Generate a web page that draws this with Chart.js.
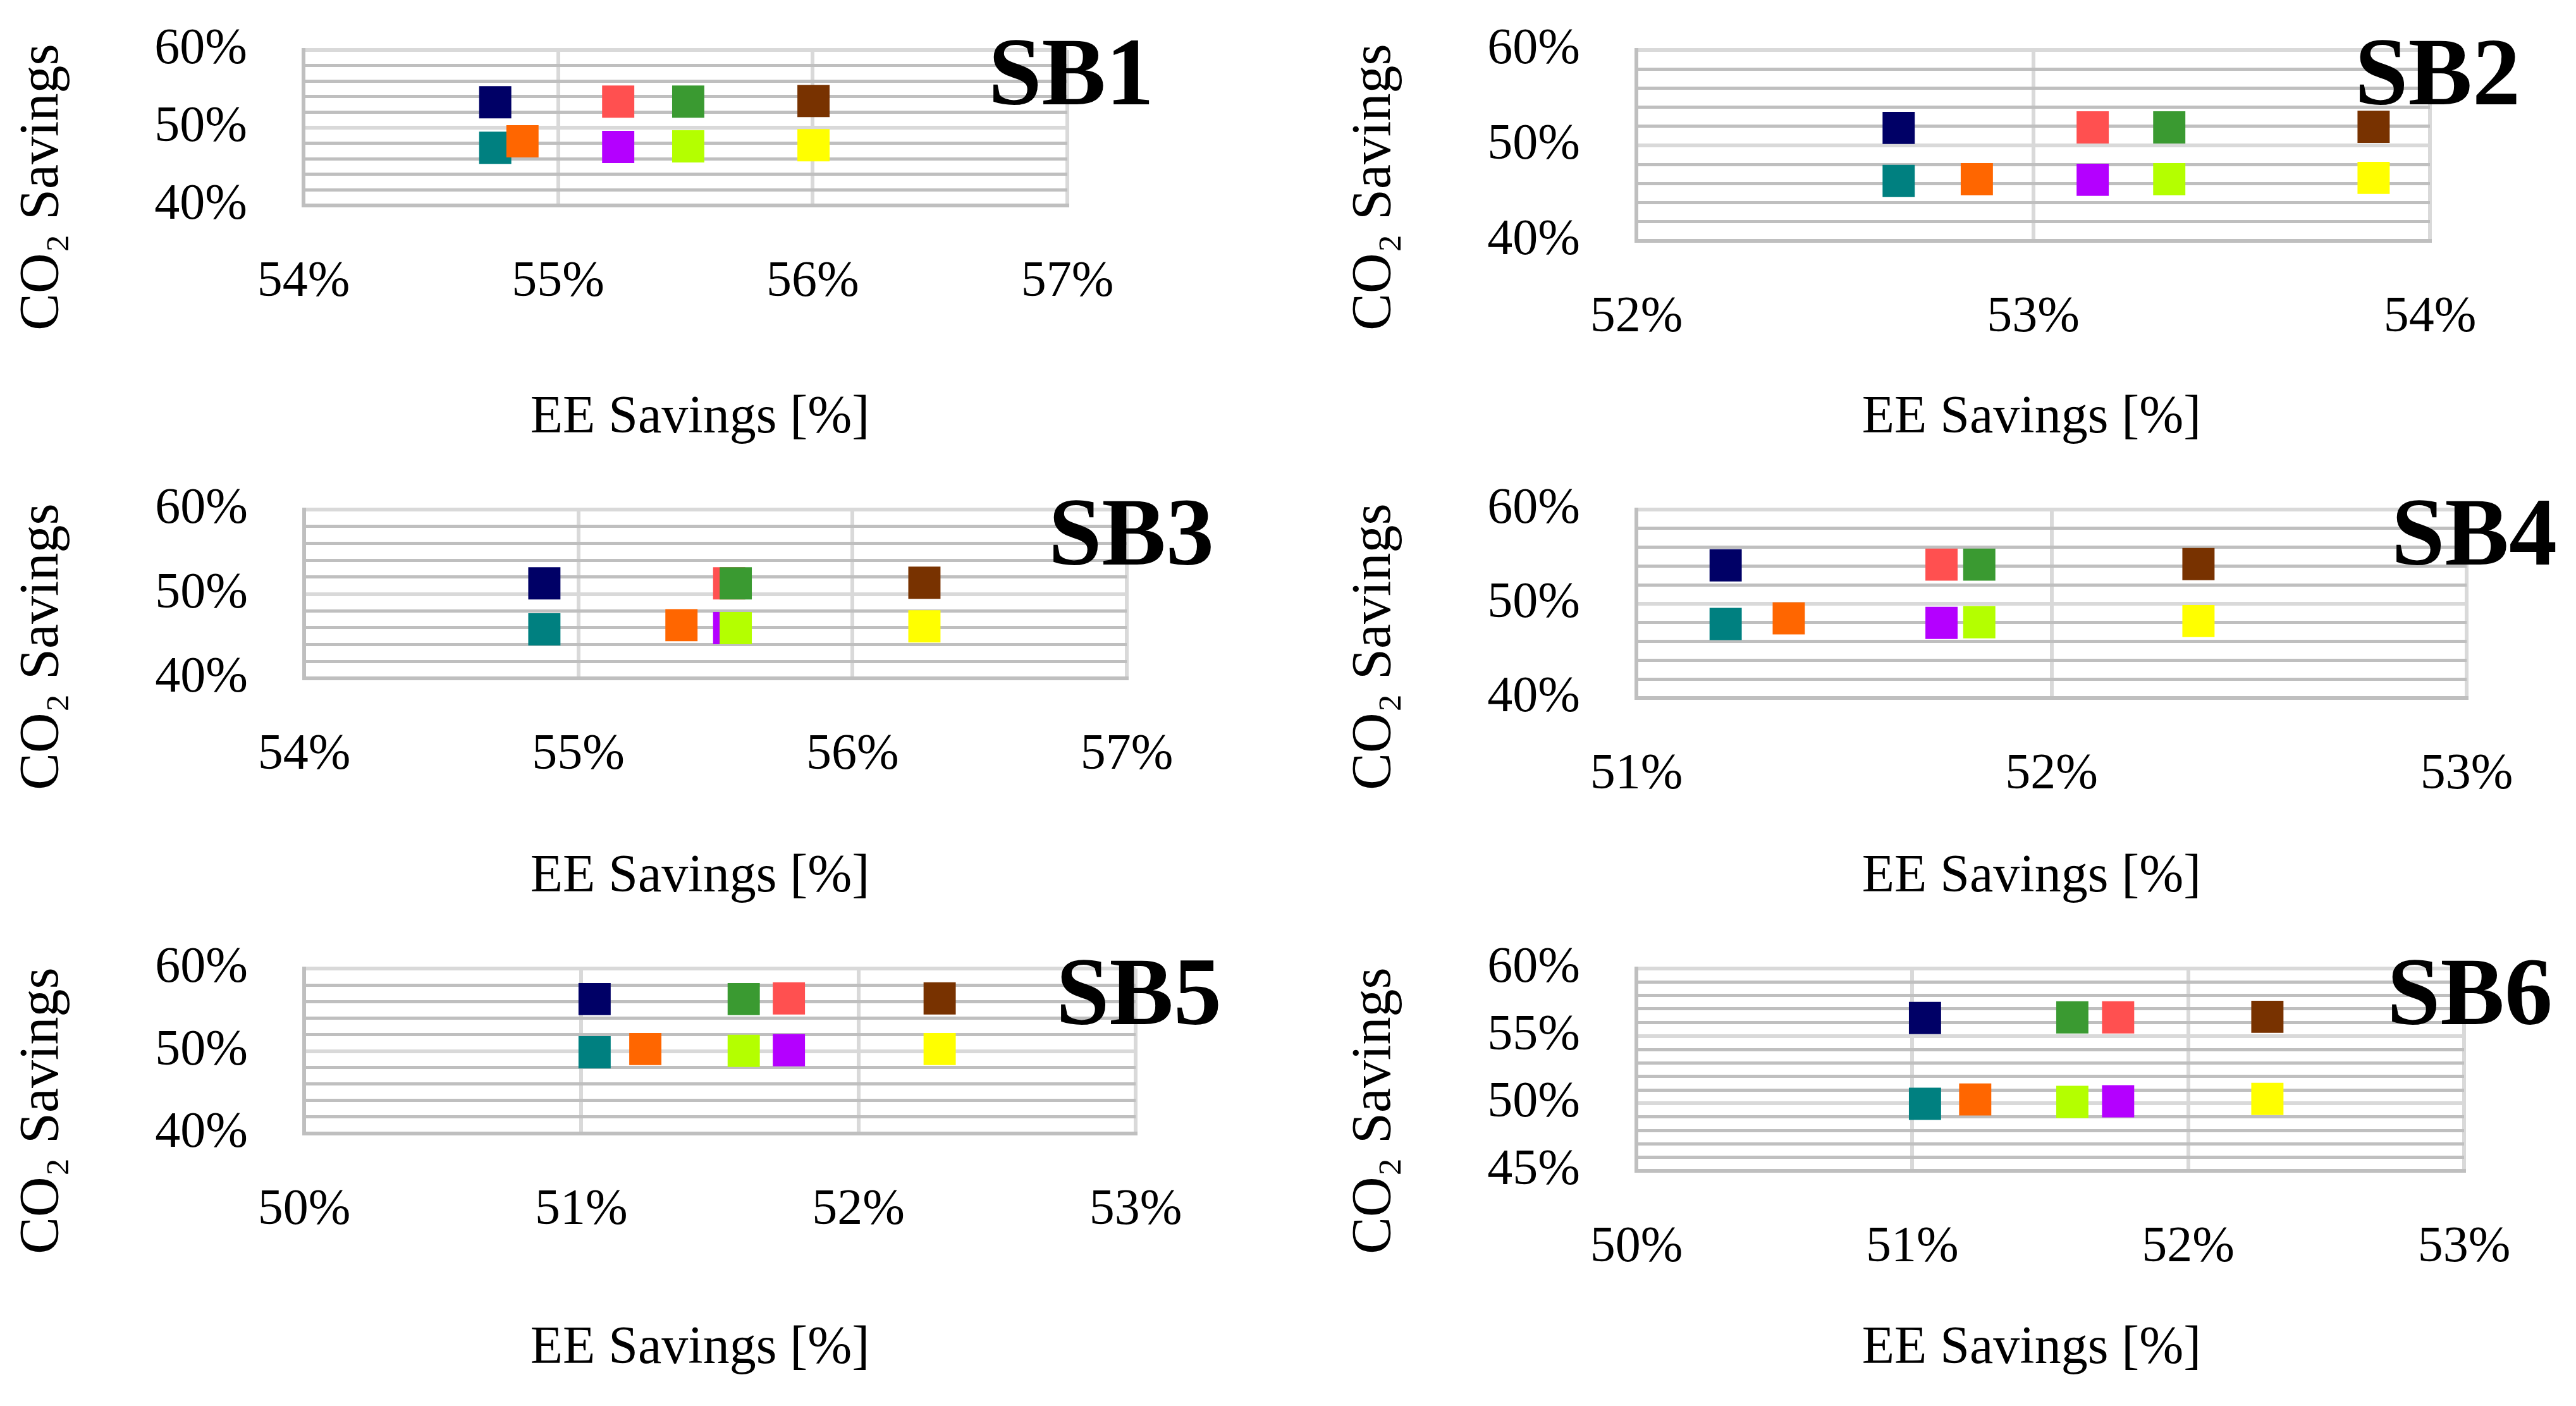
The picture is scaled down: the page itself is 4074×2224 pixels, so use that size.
<!DOCTYPE html>
<html>
<head>
<meta charset="utf-8">
<script src="https://cdn.jsdelivr.net/npm/chart.js@4.4.1/dist/chart.umd.min.js"></script>
<style>
  html, body { margin: 0; padding: 0; background: #fff; }
  #wrap { position: relative; width: 4074px; height: 2224px; }
  #wrap canvas { position: absolute; }
</style>
</head>
<body>
<div id="wrap"></div>
<script>
// series order: navy, teal, orange, salmon, purple, green, lime, brown, yellow
var seriesColors = ['#000066', '#008080', '#FF6600', '#FF5050', '#B400FF', '#3A9A31', '#B4FF00', '#783200', '#FFFF00'];

var panelNames = ['SB1', 'SB2', 'SB3', 'SB4', 'SB5', 'SB6'];

var sb1X = [54.753, 54.753, 54.86, 55.236, 55.236, 55.511, 55.511, 56.003, 56.003];
var sb1Y = [53.27, 47.42, 48.25, 53.35, 47.52, 53.35, 47.60, 53.44, 47.74];
var sb2X = [52.661, 52.661, 52.858, 53.150, 53.150, 53.343, 53.343, 53.858, 53.858];
var sb2Y = [51.83, 46.27, 46.46, 51.89, 46.40, 51.89, 46.46, 51.95, 46.60];
var sb3X = [54.876, 54.876, 55.376, 55.55, 55.55, 55.574, 55.574, 56.262, 56.262];
var sb3Y = [51.26, 45.81, 46.30, 51.26, 45.95, 51.26, 45.95, 51.33, 46.16];
var sb4X = [51.215, 51.215, 51.367, 51.735, 51.735, 51.826, 51.826, 52.354, 52.354];
var sb4Y = [54.08, 47.85, 48.45, 54.15, 47.97, 54.15, 48.04, 54.21, 48.16];
var sb5X = [51.048, 51.048, 51.231, 51.749, 51.749, 51.586, 51.586, 52.293, 52.293];
var sb5Y = [56.29, 49.85, 50.24, 56.38, 50.09, 56.29, 50.02, 56.38, 50.24];
var sb6X = [51.046, 51.046, 51.228, 51.746, 51.746, 51.580, 51.580, 52.287, 52.287];
var sb6Y = [56.33, 49.97, 50.29, 56.38, 50.16, 56.38, 50.11, 56.42, 50.33];

// tick labels (values in %)
var sb1XTicks = [54, 55, 56, 57], sb1YTicks = [40, 50, 60];
var sb2XTicks = [52, 53, 54],     sb2YTicks = [40, 50, 60];
var sb3XTicks = [54, 55, 56, 57], sb3YTicks = [40, 50, 60];
var sb4XTicks = [51, 52, 53],     sb4YTicks = [40, 50, 60];
var sb5XTicks = [50, 51, 52, 53], sb5YTicks = [40, 50, 60];
var sb6XTicks = [50, 51, 52, 53], sb6YTicks = [45, 50, 55, 60];
var yMinorSteps = [2, 2, 2, 2, 2, 1];

var allX = [sb1X, sb2X, sb3X, sb4X, sb5X, sb6X];
var allY = [sb1Y, sb2Y, sb3Y, sb4Y, sb5Y, sb6Y];
var allXTicks = [sb1XTicks, sb2XTicks, sb3XTicks, sb4XTicks, sb5XTicks, sb6XTicks];
var allYTicks = [sb1YTicks, sb2YTicks, sb3YTicks, sb4YTicks, sb5YTicks, sb6YTicks];

// layout of each panel (page px): box, plot area inside box, text anchors
var boxes = [
  {x: 0,    y: 0,    w: 2037, h: 740, L: 480, R: 1688, T: 79, B: 325, ytx: 68,  yty: 296, xtx: 1107, xty: 662, nx: 1825, ny: 165},
  {x: 2037, y: 0,    w: 2037, h: 740, L: 551, R: 1806, T: 79, B: 381, ytx: 138, yty: 296, xtx: 1176, xty: 662, nx: 1949, ny: 165},
  {x: 0,    y: 740,  w: 2037, h: 740, L: 481, R: 1782, T: 66, B: 333, ytx: 68,  yty: 283, xtx: 1107, xty: 648, nx: 1920, ny: 153},
  {x: 2037, y: 740,  w: 2037, h: 740, L: 551, R: 1864, T: 66, B: 364, ytx: 138, yty: 283, xtx: 1176, xty: 648, nx: 2007, ny: 153},
  {x: 0,    y: 1480, w: 2037, h: 744, L: 481, R: 1796, T: 52, B: 313, ytx: 68,  yty: 277, xtx: 1107, xty: 654, nx: 1932, ny: 140},
  {x: 2037, y: 1480, w: 2037, h: 744, L: 551, R: 1860, T: 52, B: 372, ytx: 138, yty: 277, xtx: 1176, xty: 654, nx: 2000, ny: 140}
];

var serif = '"Liberation Serif", "Times New Roman", serif';
var lightGrid = '#d9d9d9', darkGrid = '#bfbfbf';

var panelText = {
  id: 'panelText',
  afterDraw: function (chart, args, o) {
    var c = chart.ctx;
    c.save();
    c.fillStyle = '#000';
    c.textAlign = 'center';
    c.textBaseline = 'middle';
    c.font = '84px ' + serif;
    c.fillText('EE Savings [%]', o.xtx, o.xty);
    c.save();
    c.translate(o.ytx, o.yty);
    c.rotate(-Math.PI / 2);
    c.font = '88px ' + serif;
    c.fillText('CO\u2082 Savings', 0, 0);
    c.restore();
    c.textAlign = 'right';
    c.textBaseline = 'alphabetic';
    c.font = 'bold 152px ' + serif;
    c.fillText(o.name, o.nx, o.ny);
    c.restore();
  }
};

var wrap = document.getElementById('wrap');

panelNames.forEach(function (name, p) {
  var b = boxes[p];
  var cv = document.createElement('canvas');
  cv.width = b.w; cv.height = b.h;
  cv.style.left = b.x + 'px'; cv.style.top = b.y + 'px';
  cv.style.width = b.w + 'px'; cv.style.height = b.h + 'px';
  wrap.appendChild(cv);

  var xt = allXTicks[p], yt = allYTicks[p];
  var yMin = yt[0], yMax = yt[yt.length - 1];
  var isMajor = function (v) { return yt.indexOf(Math.round(v * 1000) / 1000) >= 0; };

  var datasets = seriesColors.map(function (col, i) {
    return {
      data: [{x: allX[p][i], y: allY[p][i]}],
      pointStyle: 'rect',
      pointRadius: 36,
      pointHoverRadius: 36,
      pointBorderWidth: 0,
      backgroundColor: col,
      borderColor: col,
      order: seriesColors.length - i
    };
  });

  new Chart(cv, {
    type: 'scatter',
    data: { datasets: datasets },
    options: {
      responsive: false,
      devicePixelRatio: 1,
      animation: false,
      events: [],
      layout: { padding: { top: b.T, right: b.w - b.R, bottom: 0, left: 0 } },
      plugins: {
        legend: { display: false },
        tooltip: { enabled: false },
        panelText: { name: name, xtx: b.xtx, xty: b.xty, ytx: b.ytx, yty: b.yty, nx: b.nx, ny: b.ny }
      },
      scales: {
        x: {
          type: 'linear',
          min: xt[0], max: xt[xt.length - 1],
          afterFit: function (s) { s.height = b.h - b.B; s.paddingLeft = 40; s.paddingRight = 40; },
          grid: { color: lightGrid, lineWidth: 6, drawTicks: false },
          border: { color: darkGrid, width: 6 },
          ticks: {
            stepSize: 1, autoSkip: false, maxRotation: 0, padding: 74,
            color: '#000', font: { family: serif, size: 80 },
            callback: function (v) { return v + '%'; }
          }
        },
        y: {
          type: 'linear',
          min: yMin, max: yMax,
          afterFit: function (s) { s.width = b.L; s.paddingTop = 20; s.paddingBottom = 20; },
          grid: {
            drawTicks: false,
            color: function (ctx) {
              var v = ctx.tick.value;
              if (v === yMin) return darkGrid;
              return isMajor(v) ? lightGrid : darkGrid;
            },
            lineWidth: function (ctx) {
              var v = ctx.tick.value;
              return (v === yMin || isMajor(v)) ? 6 : 5;
            }
          },
          border: { color: darkGrid, width: 6 },
          ticks: {
            stepSize: yMinorSteps[p], autoSkip: false, padding: 89,
            color: '#000', font: { family: serif, size: 80 },
            callback: function (v) { return isMajor(v) ? Math.round(v) + '%' : ''; }
          }
        }
      }
    },
    plugins: [panelText]
  });
});
</script>
</body>
</html>
